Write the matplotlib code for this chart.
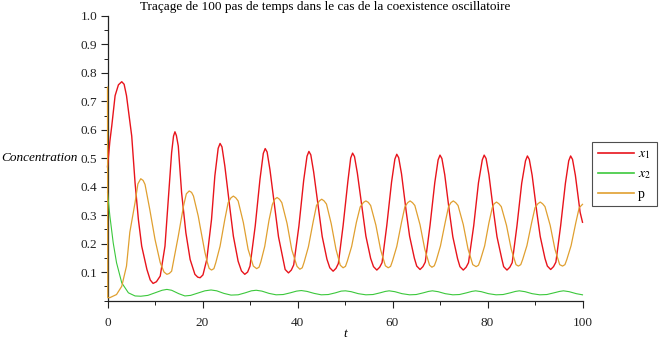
import matplotlib
matplotlib.use("Agg")
import matplotlib.pyplot as plt
from matplotlib.ticker import MultipleLocator, FixedLocator

plt.rcParams['font.family'] = ['Liberation Serif', 'DejaVu Serif']
plt.rcParams['mathtext.fontset'] = 'stix'

title = "Traçage de 100 pas de temps dans le cas de la coexistence oscillatoire"
ylabel = "Concentration"
xlabel = "t"
labels = ["$x_1$", "$x_2$", "p"]

# x1 (red)
t_x1 = [0, 0.5, 0.9, 1.6, 2.3, 3.0, 3.5, 4.0, 5.1, 5.8, 6.5, 7.2, 8.3, 9.0, 9.6, 10.3, 11.1,
        12.1, 12.8, 13.5, 13.9, 14.2, 14.5, 14.9, 15.6, 16.5, 17.4, 18.4, 19.0, 19.5, 20.1,
        20.9, 21.9, 22.6, 23.3, 23.7, 24.1, 24.7, 25.8, 26.5, 27.5, 28.2, 28.9, 29.5, 30.0,
        31.1, 32.1, 32.8, 33.2, 33.6, 34.2, 35.3, 36.0, 37.0, 37.4, 38.1, 38.7, 39.2, 40.3,
        41.3, 42.0, 42.4, 42.8, 43.4, 44.5, 45.2, 46.2, 46.8, 47.5, 48.1, 48.6, 49.6, 50.6,
        51.2, 51.6, 52.0, 52.6, 53.7, 54.4, 55.4, 56.0, 56.7, 57.3, 57.8, 58.8, 59.8, 60.5,
        60.9, 61.3, 61.9, 62.9, 63.6, 64.6, 65.1, 65.8, 66.4, 66.9, 67.9, 68.9, 69.6, 70.0,
        70.4, 71.0, 72.0, 72.7, 73.7, 74.2, 74.9, 75.5, 76.0, 77.1, 78.1, 78.9, 79.3, 79.7,
        80.3, 81.3, 82.0, 83.0, 83.4, 84.1, 84.7, 85.2, 86.2, 87.2, 88.0, 88.4, 88.8, 89.4,
        90.4, 91.1, 92.1, 92.6, 93.3, 93.9, 94.4, 95.4, 96.4, 97.1, 97.5, 97.9, 98.5, 99.5, 100.0]
x1 = [0.47, 0.56, 0.614, 0.72, 0.758, 0.769, 0.76, 0.72, 0.578, 0.414, 0.285, 0.191, 0.109,
      0.072, 0.06, 0.066, 0.086, 0.191, 0.356, 0.52, 0.578, 0.593, 0.58, 0.543, 0.379, 0.238,
      0.144, 0.092, 0.082, 0.08, 0.09, 0.144, 0.285, 0.438, 0.535, 0.552, 0.54, 0.473, 0.32,
      0.226, 0.138, 0.104, 0.092, 0.1, 0.121, 0.262, 0.426, 0.517, 0.534, 0.522, 0.46, 0.315,
      0.224, 0.141, 0.109, 0.097, 0.107, 0.125, 0.262, 0.422, 0.507, 0.524, 0.512, 0.452,
      0.314, 0.225, 0.145, 0.115, 0.103, 0.113, 0.13, 0.263, 0.418, 0.501, 0.518, 0.506, 0.448,
      0.312, 0.226, 0.148, 0.119, 0.107, 0.117, 0.133, 0.264, 0.416, 0.497, 0.514, 0.502, 0.445,
      0.311, 0.226, 0.149, 0.121, 0.109, 0.119, 0.135, 0.264, 0.414, 0.494, 0.511, 0.499, 0.442,
      0.309, 0.224, 0.147, 0.119, 0.107, 0.117, 0.133, 0.263, 0.414, 0.494, 0.511, 0.499, 0.442,
      0.309, 0.224, 0.147, 0.119, 0.107, 0.117, 0.133, 0.262, 0.412, 0.491, 0.508, 0.496, 0.44,
      0.308, 0.225, 0.148, 0.121, 0.109, 0.119, 0.135, 0.263, 0.412, 0.491, 0.508, 0.496, 0.44,
      0.31, 0.275]

# x2 (green)
t_x2 = [0, 0.5, 1.2, 1.9, 3.0, 4.4, 5.8, 7.0, 8.5, 10.0, 11.5, 12.5, 13.5, 15.0, 16.3, 17.5,
        19.0, 20.5, 21.8, 23.0, 24.5, 26.0, 27.5, 29.0, 30.3, 31.3, 32.5, 34.0, 35.5, 37.0,
        38.5, 39.8, 40.8, 42.0, 43.5, 45.0, 46.5, 48.0, 49.2, 50.1, 51.3, 52.8, 54.4, 55.9,
        57.4, 58.5, 59.3, 60.5, 62.0, 63.6, 65.0, 66.5, 67.6, 68.4, 69.6, 71.1, 72.7, 74.1,
        75.6, 76.7, 77.5, 78.7, 80.2, 81.8, 83.3, 84.8, 85.9, 86.7, 87.9, 89.4, 91.0, 92.5,
        94.0, 95.2, 96.0, 97.2, 98.7, 100.0]
x2 = [0.38, 0.297, 0.203, 0.133, 0.062, 0.027, 0.016, 0.015, 0.018, 0.027, 0.036, 0.039, 0.036,
      0.024, 0.016, 0.018, 0.026, 0.034, 0.037, 0.034, 0.025, 0.019, 0.02, 0.027, 0.034, 0.036,
      0.033, 0.025, 0.02, 0.021, 0.027, 0.033, 0.035, 0.032, 0.025, 0.02, 0.021, 0.027, 0.033,
      0.034, 0.031, 0.024, 0.02, 0.021, 0.027, 0.032, 0.034, 0.031, 0.024, 0.02, 0.021, 0.027,
      0.032, 0.034, 0.031, 0.024, 0.02, 0.021, 0.027, 0.032, 0.034, 0.031, 0.024, 0.02, 0.021,
      0.027, 0.032, 0.034, 0.031, 0.024, 0.02, 0.021, 0.027, 0.032, 0.034, 0.031, 0.024, 0.02]

# p (orange)
t_p = [0, 0.05, 0.5, 1.9, 3.0, 4.0, 4.7, 5.8, 6.4, 7.0, 7.5, 7.9, 8.9, 10.0, 11.1, 11.9, 12.5,
       13.0, 13.5, 14.9, 16.0, 16.6, 17.2, 17.7, 18.1, 19.1, 19.5, 20.5, 21.0, 21.4, 21.9, 22.4,
       22.8, 23.7, 24.7, 25.4, 26.0, 26.5, 27.0, 27.5, 28.6, 29.6, 30.7, 31.4, 31.9, 32.3, 33.1,
       34.0, 34.7, 35.2, 35.7, 36.2, 36.7, 37.8, 38.8, 39.9, 40.5, 41.0, 41.4, 42.3, 43.3, 44.0,
       44.6, 45.1, 45.6, 46.1, 47.1, 48.1, 49.0, 49.6, 50.1, 50.5, 51.4, 52.4, 53.2, 53.9, 54.4,
       54.9, 55.4, 56.5, 57.5, 58.5, 59.1, 59.6, 60.0, 60.9, 61.9, 62.6, 63.2, 63.7, 64.2, 64.7,
       65.8, 66.8, 67.8, 68.3, 68.8, 69.2, 70.1, 71.1, 71.8, 72.3, 72.8, 73.3, 73.8, 74.9, 75.9,
       76.9, 77.6, 78.1, 78.5, 79.4, 80.3, 81.0, 81.4, 81.9, 82.4, 82.9, 84.0, 85.0, 86.0, 86.5,
       87.0, 87.4, 88.3, 89.3, 90.0, 90.6, 91.1, 91.6, 92.1, 93.2, 94.2, 95.2, 95.8, 96.3, 96.7,
       97.6, 98.6, 99.3, 100.0]
p = [0.75, 0.01, 0.01, 0.021, 0.05, 0.121, 0.24, 0.344, 0.41, 0.428, 0.422, 0.408, 0.32, 0.215,
     0.133, 0.1, 0.092, 0.095, 0.103, 0.226, 0.332, 0.375, 0.385, 0.38, 0.367, 0.297, 0.26, 0.17,
     0.135, 0.113, 0.107, 0.112, 0.133, 0.191, 0.285, 0.344, 0.361, 0.367, 0.361, 0.35, 0.274,
     0.18, 0.121, 0.112, 0.117, 0.137, 0.19, 0.282, 0.337, 0.356, 0.362, 0.356, 0.344, 0.271,
     0.178, 0.12, 0.11, 0.115, 0.135, 0.189, 0.277, 0.334, 0.35, 0.356, 0.35, 0.339, 0.27, 0.18,
     0.124, 0.115, 0.12, 0.139, 0.19, 0.275, 0.329, 0.345, 0.35, 0.345, 0.334, 0.265, 0.178,
     0.122, 0.115, 0.12, 0.139, 0.19, 0.275, 0.329, 0.344, 0.35, 0.344, 0.334, 0.266, 0.18,
     0.124, 0.117, 0.122, 0.14, 0.192, 0.275, 0.33, 0.344, 0.35, 0.344, 0.334, 0.267, 0.181,
     0.126, 0.119, 0.124, 0.142, 0.192, 0.273, 0.326, 0.34, 0.346, 0.34, 0.33, 0.264, 0.18,
     0.126, 0.121, 0.126, 0.144, 0.193, 0.274, 0.326, 0.34, 0.346, 0.34, 0.33, 0.264, 0.18,
     0.126, 0.121, 0.126, 0.144, 0.193, 0.274, 0.326, 0.338]

xticks = [0, 20, 40, 60, 80, 100]
yticks = [0.1, 0.2, 0.3, 0.4, 0.5, 0.6, 0.7, 0.8, 0.9, 1.0]

fig = plt.figure(figsize=(6.65, 3.59), dpi=100)
ax = fig.add_axes([107.5 / 665, 1 - 300.5 / 359, 475 / 665, 284.5 / 359])

l1, = ax.plot(t_x1, x1, color='#e8141c', lw=1.0, zorder=3, clip_on=False)
l2, = ax.plot(t_x2, x2, color='#3cc83c', lw=0.8, zorder=3, clip_on=False)
l3, = ax.plot(t_p, p, color='#e0a030', lw=0.9, zorder=3, clip_on=False)

ax.set_xlim(0, 100)
ax.set_ylim(0, 1.0)
ax.spines['top'].set_visible(False)
ax.spines['right'].set_visible(False)
for s in ('left', 'bottom'):
    ax.spines[s].set_linewidth(0.9)
    ax.spines[s].set_color('#222222')

ax.xaxis.set_major_locator(FixedLocator(xticks))
ax.xaxis.set_minor_locator(MultipleLocator(10))
ax.yaxis.set_major_locator(FixedLocator(yticks))
ax.yaxis.set_minor_locator(MultipleLocator(0.05))
ax.set_xticklabels([str(v) for v in xticks])
ax.set_yticklabels([f"{v:.1f}" for v in yticks])
ax.tick_params(axis='both', which='major', direction='out', length=5, width=0.8,
               labelsize=9.5, colors='#222222')
ax.tick_params(axis='both', which='minor', direction='out', length=3, width=0.7, colors='#222222')
ax.tick_params(axis='x', which='major', pad=7)
ax.tick_params(axis='y', which='major', pad=2.5)

fig.text(325 / 665, 1 - 1 / 359, title, ha='center', va='top', fontsize=9.5)
fig.text(1 / 665, 1 - 158 / 359, ylabel, ha='left', va='center', fontsize=9.5, style='italic')
fig.text(345 / 665, 1 - 334 / 359, xlabel, ha='center', va='center', fontsize=9.5, style='italic')

leg = fig.legend([l1, l2, l3], labels, loc='upper left',
                 bbox_to_anchor=(592 / 665, 1 - 142 / 359), bbox_transform=fig.transFigure,
                 borderaxespad=0, frameon=True, fancybox=False, fontsize=10,
                 handlelength=2.6, labelspacing=0.45, handletextpad=0.3, borderpad=0.4)
leg.get_frame().set_edgecolor('#222222')
leg.get_frame().set_linewidth(0.8)
for h in leg.legend_handles:
    h.set_linewidth(1.2)

fig.savefig("out.png", dpi=100)
